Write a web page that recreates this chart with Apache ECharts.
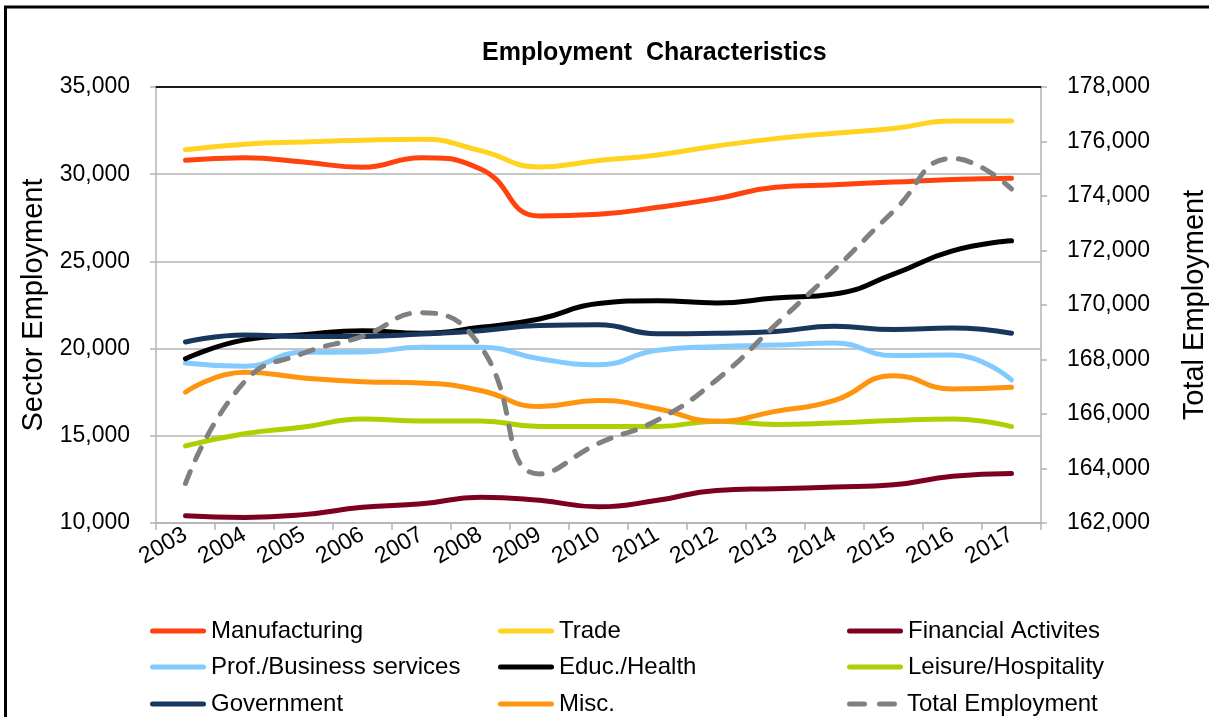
<!DOCTYPE html>
<html>
<head>
<meta charset="utf-8">
<script src="https://cdn.jsdelivr.net/npm/echarts@6/dist/echarts.min.js"></script>
<style>
html,body{margin:0;padding:0;background:#fff;overflow:hidden;}
#chart{width:1209px;height:717px;}
</style>
</head>
<body>
<div id="chart"></div>
<script>
const years = ['2003','2004','2005','2006','2007','2008','2009','2010','2011','2012','2013','2014','2015','2016','2017'];
const manufacturing = [30800, 30950, 30700, 30400, 30950, 30300, 27600, 27700, 28100, 28600, 29250, 29400, 29550, 29700, 29770];
const trade = [31400, 31720, 31850, 31950, 32000, 31350, 30420, 30780, 31100, 31620, 32040, 32350, 32620, 33050, 33050];
const financial = [10420, 10320, 10480, 10900, 11100, 11480, 11300, 10930, 11300, 11870, 11970, 12060, 12190, 12680, 12840];
const profBusiness = [19180, 18990, 19790, 19800, 20080, 20080, 19420, 19080, 19900, 20110, 20200, 20320, 19600, 19640, 18200];
const educHealth = [19420, 20500, 20800, 21030, 20880, 21220, 21700, 22580, 22750, 22620, 22900, 23130, 24270, 25600, 26180];
const leisure = [14420, 15120, 15500, 15960, 15850, 15850, 15530, 15530, 15530, 15840, 15650, 15740, 15880, 15960, 15530];
const government = [20380, 20780, 20700, 20700, 20840, 21030, 21320, 21370, 20850, 20880, 20980, 21280, 21090, 21180, 20880];
const misc = [17500, 18640, 18320, 18100, 18030, 17600, 16680, 17020, 16550, 15840, 16400, 17030, 18450, 17680, 17780];
const totalEmployment = [163450, 167180, 168230, 168850, 169720, 168480, 163800, 164920, 165780, 167250, 169270, 171300, 173440, 175380, 174260];

const FONT = 'Liberation Sans, Arial, sans-serif';
const gridGray = '#B3B3B3';

function fmt(v){ return String(v).replace(/\B(?=(\d{3})+(?!\d))/g, ','); }

function lineSeries(name, data, color, yIdx, dashed){
  return {
    name: name, type: 'line', data: data, yAxisIndex: yIdx || 0, xAxisIndex: 0,
    smooth: 0.5, symbol: 'none', showSymbol: false,
    lineStyle: { color: color, width: 5, cap: 'round', join: 'round', type: dashed ? [13, 13] : 'solid' },
    itemStyle: { color: color },
    emphasis: { disabled: true }
  };
}

const solidIcon = 'path://M2.5,0H53.5A2.5,2.5,0,0,1,53.5,5H2.5A2.5,2.5,0,0,1,2.5,0Z';
const dashIcon = 'path://M2.5,0H17.5A2.5,2.5,0,0,1,17.5,5H2.5A2.5,2.5,0,0,1,2.5,0Z M32.5,0H47.5A2.5,2.5,0,0,1,47.5,5H32.5A2.5,2.5,0,0,1,32.5,0Z';

function legendItem(name, left, top, dashed){
  return {
    data: [name], left: left, top: top, orient: 'horizontal', padding: 0,
    itemWidth: dashed ? 50 : 56, itemHeight: 5, itemGap: 0,
    icon: dashed ? dashIcon : solidIcon,
    textStyle: { fontFamily: FONT, fontSize: 24, color: '#000', padding: [0, 0, 0, dashed ? 5 : 0] },
    selectedMode: false
  };
}

const colX = [150, 498, 847];
const rowY = [619, 655, 692];

const chart = echarts.init(document.getElementById('chart'));
chart.setOption({
  animation: false,
  backgroundColor: '#fff',
  title: {
    text: 'Employment  Characteristics', left: 477, top: 36,
    textStyle: { fontFamily: FONT, fontSize: 25, fontWeight: 'bold', color: '#000' }
  },
  graphic: [{
    type: 'rect', silent: true, z: 100,
    shape: { x: 5.5, y: 7, width: 1300, height: 800 },
    style: { fill: 'none', stroke: '#000', lineWidth: 3 }
  }],
  legend: [
    legendItem('Manufacturing', colX[0], rowY[0]),
    legendItem('Trade', colX[1], rowY[0]),
    legendItem('Financial Activites', colX[2], rowY[0]),
    legendItem('Prof./Business services', colX[0], rowY[1]),
    legendItem('Educ./Health', colX[1], rowY[1]),
    legendItem('Leisure/Hospitality', colX[2], rowY[1]),
    legendItem('Government', colX[0], rowY[2]),
    legendItem('Misc.', colX[1], rowY[2]),
    legendItem('Total Employment', colX[2], rowY[2], true)
  ],
  grid: { left: 156, right: 168, top: 87, bottom: 194, containLabel: false, outerBoundsMode: 'none' },
  xAxis: [{
    type: 'category', data: years, boundaryGap: true, position: 'bottom',
    axisLine: { show: true, lineStyle: { color: gridGray, width: 1.5 } },
    axisTick: { show: true, length: 7, lineStyle: { color: gridGray, width: 1.5 } },
    axisLabel: { rotate: 30, margin: 10, fontFamily: FONT, fontSize: 23, color: '#000', interval: 0 },
    splitLine: { show: false }
  }, {
    type: 'category', data: years, boundaryGap: true, position: 'top',
    axisLine: { show: true, lineStyle: { color: '#1a1a1a', width: 2 } },
    axisTick: { show: false }, axisLabel: { show: false }, splitLine: { show: false }
  }],
  yAxis: [{
    type: 'value', min: 10000, max: 35000, interval: 5000, position: 'left',
    name: 'Sector Employment', nameLocation: 'middle', nameRotate: 90, nameGap: 104,
    nameTextStyle: { fontFamily: FONT, fontSize: 29, color: '#000' },
    axisLine: { show: true, lineStyle: { color: gridGray, width: 1.5 } },
    axisTick: { show: true, length: 6, lineStyle: { color: gridGray, width: 1.5 } },
    axisLabel: { formatter: fmt, margin: 26, fontFamily: FONT, fontSize: 23, color: '#000' },
    splitLine: { show: true, lineStyle: { color: gridGray, width: 1.5 } }
  }, {
    type: 'value', min: 162000, max: 178000, interval: 2000, position: 'right',
    name: 'Total Employment', nameLocation: 'middle', nameRotate: 90, nameGap: 139,
    nameTextStyle: { fontFamily: FONT, fontSize: 29, color: '#000' },
    axisLine: { show: true, lineStyle: { color: gridGray, width: 1.5 } },
    axisTick: { show: true, length: 6, lineStyle: { color: gridGray, width: 1.5 } },
    axisLabel: { formatter: fmt, margin: 26, fontFamily: FONT, fontSize: 23, color: '#000' },
    splitLine: { show: false }
  }],
  series: [
    lineSeries('Manufacturing', manufacturing, '#FF420E'),
    lineSeries('Trade', trade, '#FFD320'),
    lineSeries('Financial Activites', financial, '#7E0021'),
    lineSeries('Prof./Business services', profBusiness, '#83CAFF'),
    lineSeries('Educ./Health', educHealth, '#000000'),
    lineSeries('Leisure/Hospitality', leisure, '#AECF00'),
    lineSeries('Government', government, '#17375E'),
    lineSeries('Misc.', misc, '#FF950E'),
    lineSeries('Total Employment', totalEmployment, '#808080', 1, true)
  ]
});
</script>
</body>
</html>
